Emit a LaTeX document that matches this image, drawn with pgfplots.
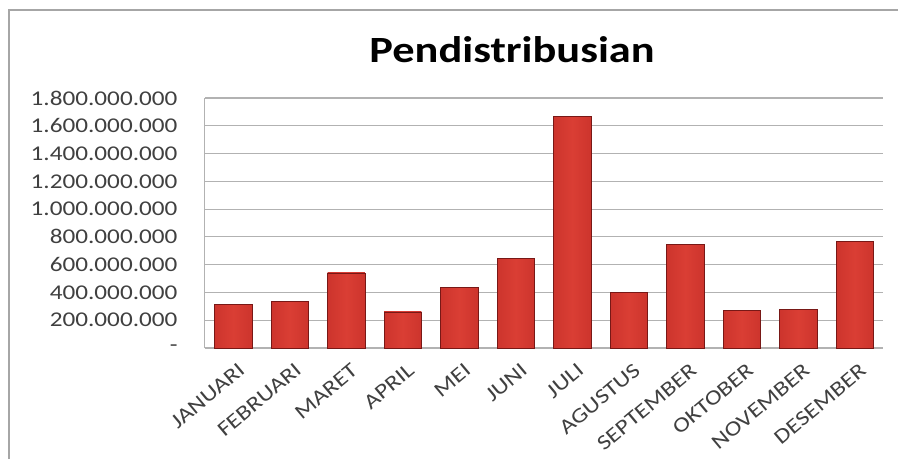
\documentclass[border=0pt]{standalone}
\usepackage{fontspec}
\setmainfont{Carlito}[FakeStretch=1.2]
\usepackage{pgfplots}
\usepackage{pgfplotstable}
\pgfplotsset{compat=1.18}
\definecolor{bardark}{RGB}{120,24,22}
\definecolor{barred}{RGB}{196,46,40}
\definecolor{barlight}{RGB}{218,62,52}
\definecolor{gridc}{RGB}{178,178,178}
\definecolor{tickc}{RGB}{64,64,64}
\pgfdeclarehorizontalshading{barshade}{100bp}{color(0bp)=(bardark); color(9bp)=(barred); color(50bp)=(barlight); color(91bp)=(barred); color(100bp)=(bardark)}
\pgfplotstableread{
x y
0 313000000
1 337000000
2 541000000
3 260000000
4 435000000
5 645000000
6 1667000000
7 399000000
8 746000000
9 272000000
10 277000000
11 765000000
}\datatable
\begin{document}
\begin{tikzpicture}[x=1pt,y=1pt]
\useasboundingbox (0,0) rectangle (898,459);
\draw[line width=1.5pt, gray!70] (9,0) -- (9,449) -- (898,449);
\node[font=\fontsize{37}{40}\selectfont\bfseries, anchor=base] at (512,396) {Pendistribusian};
\begin{axis}[
  at={(205pt,111pt)}, anchor=south west,
  scale only axis, width=678pt, height=250pt,
  xmin=-0.5, xmax=11.5, ymin=0, ymax=1800000000,
  ybar, bar width=0.66, bar shift=0pt,
  scaled y ticks=false,
  axis x line*=bottom, axis y line*=left,
  axis line style={gridc, line width=1pt},
  ymajorgrids, grid style={gridc, line width=1.2pt},
  major tick length=0pt,
  xtick={0,1,2,3,4,5,6,7,8,9,10,11},
  xticklabels={JANUARI,FEBRUARI,MARET,APRIL,MEI,JUNI,JULI,AGUSTUS,SEPTEMBER,OKTOBER,NOVEMBER,DESEMBER},
  ytick={0,200000000,400000000,600000000,800000000,1000000000,1200000000,1400000000,1600000000,1800000000},
  yticklabels={{-},{200.000.000},{400.000.000},{600.000.000},{800.000.000},{1.000.000.000},{1.200.000.000},{1.400.000.000},{1.600.000.000},{1.800.000.000}},
  xticklabel style={xshift=4pt, yshift=-14pt, rotate=40, anchor=north east, font=\fontsize{21}{21}\selectfont, text=tickc, inner sep=0pt},
  yticklabel style={anchor=east, font=\fontsize{21}{21}\selectfont, text=tickc, xshift=-24pt},
]
\pgfplotsinvokeforeach{0,...,11}{
\addplot[draw=bardark, line width=0.7pt, shading=barshade,
  restrict x to domain=#1:#1] table[x=x,y=y]{\datatable};
}
\end{axis}
\end{tikzpicture}
\end{document}
